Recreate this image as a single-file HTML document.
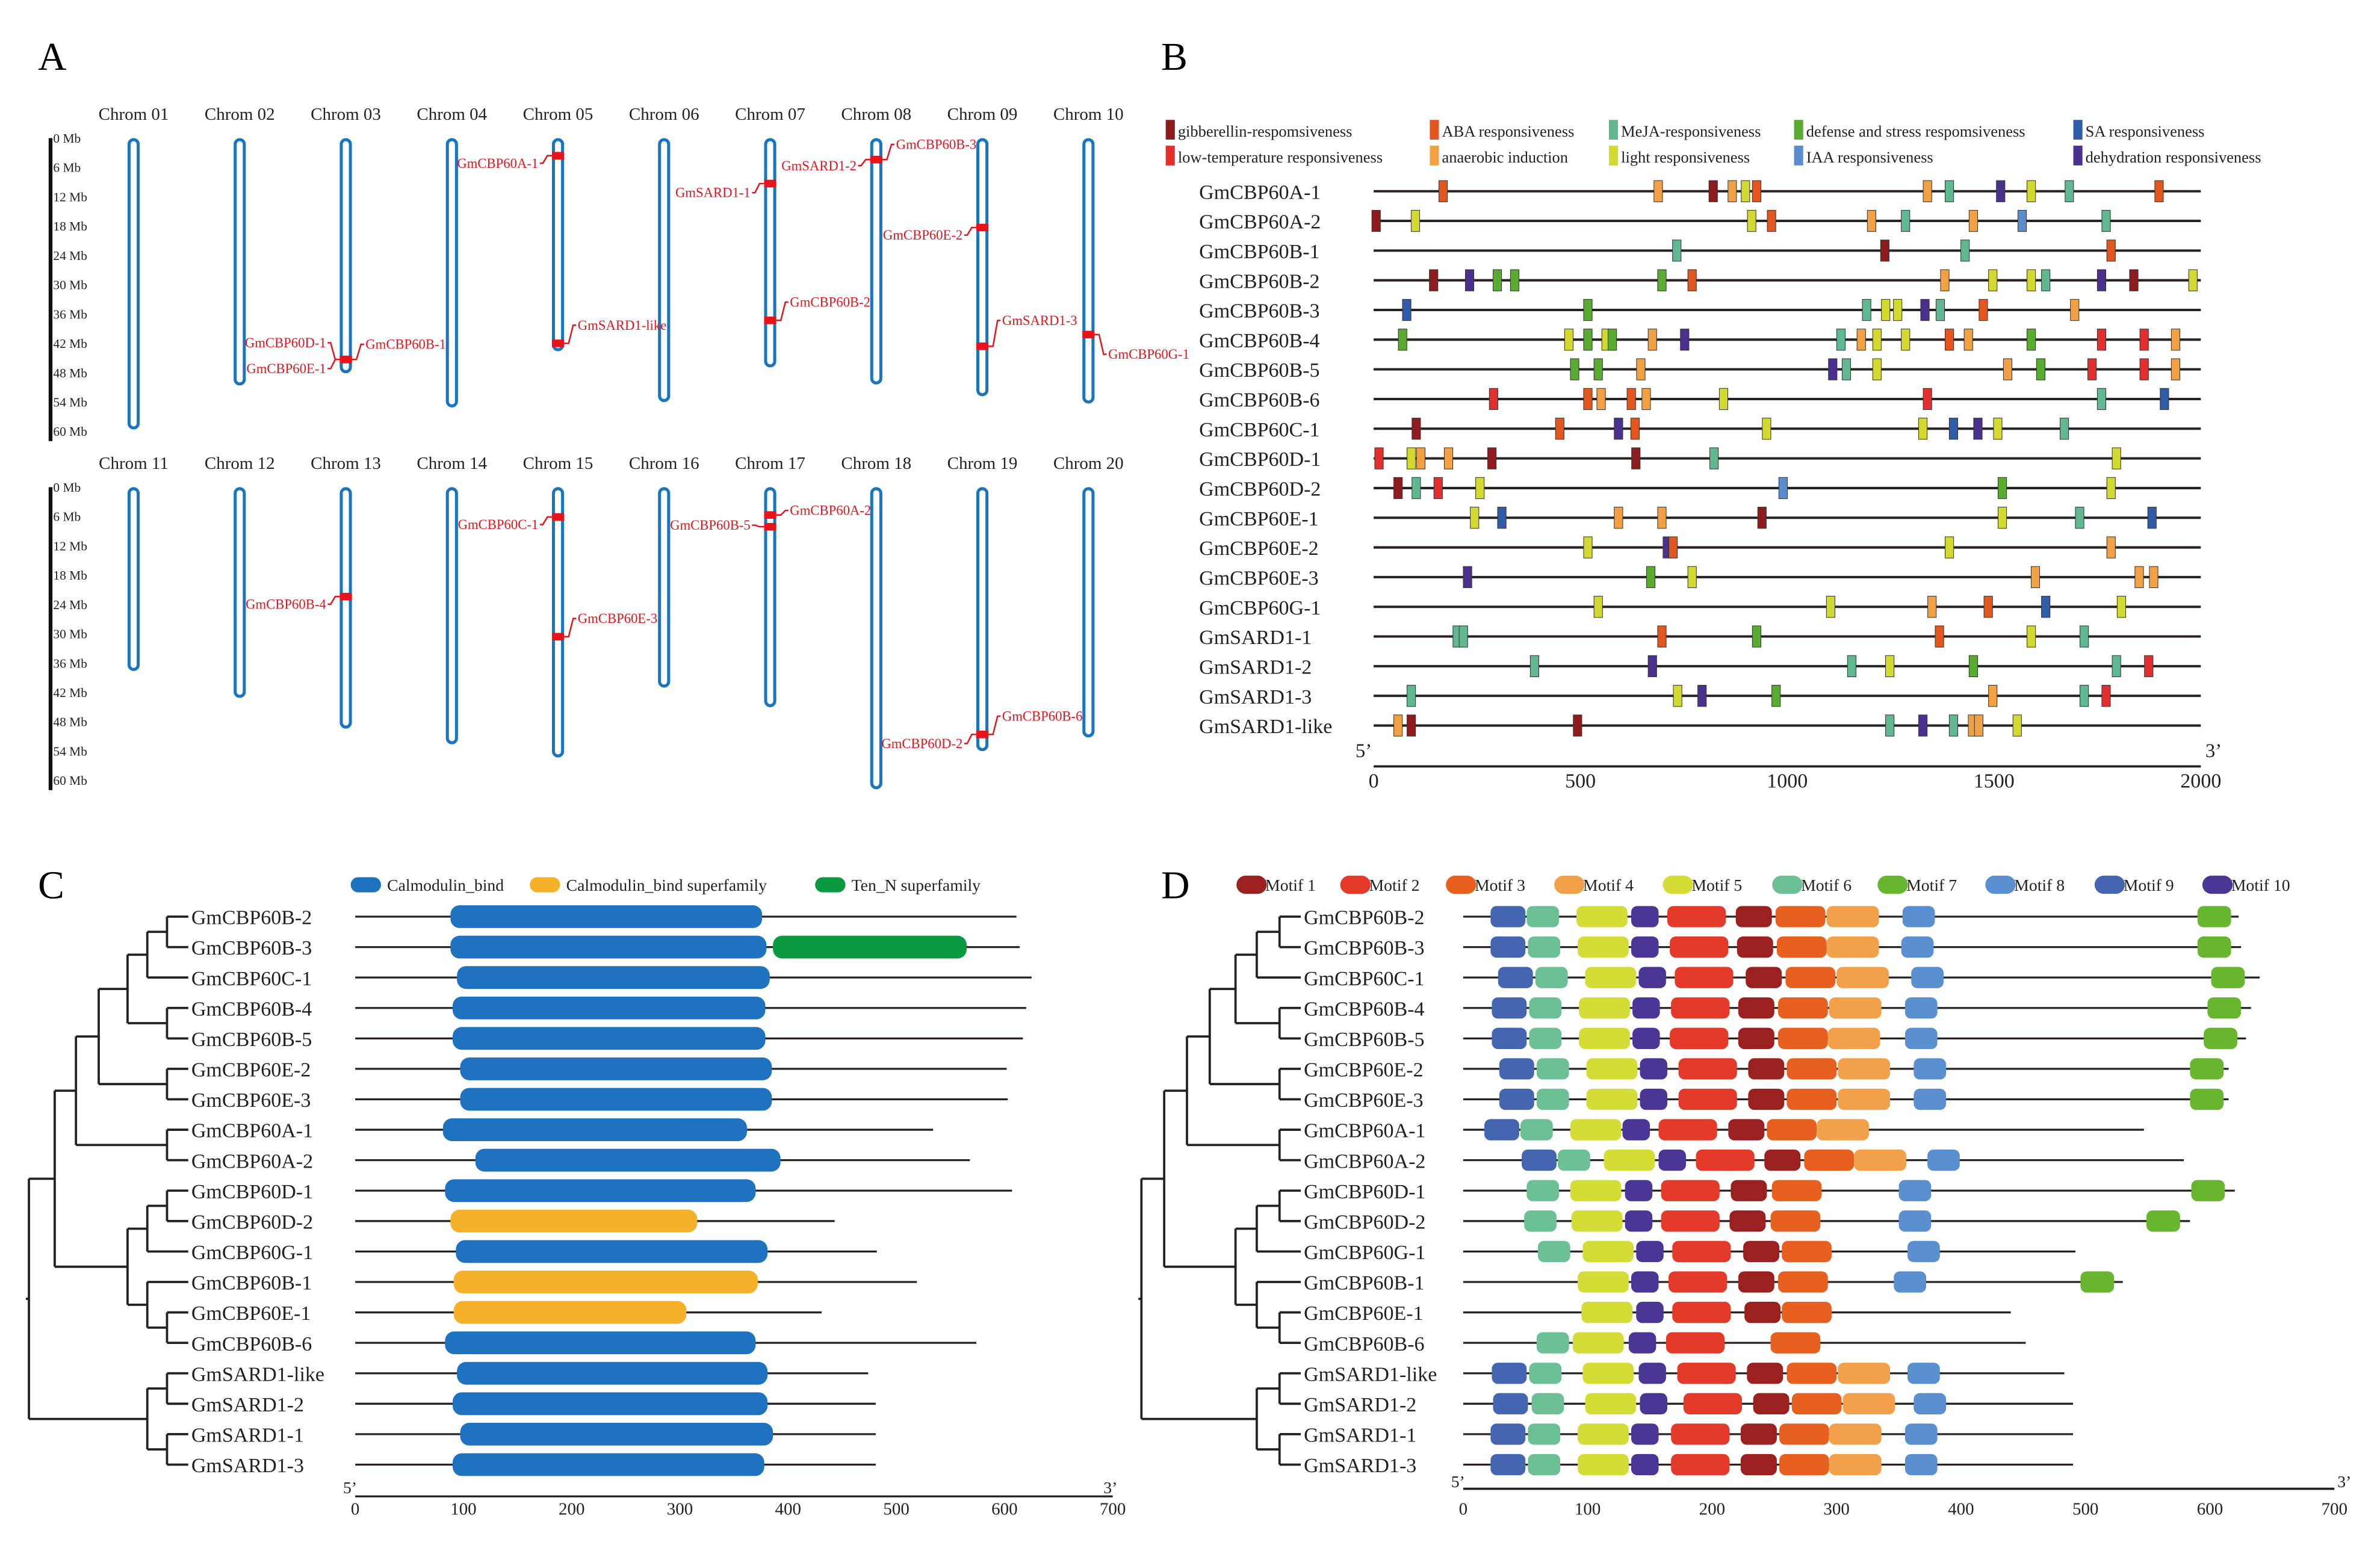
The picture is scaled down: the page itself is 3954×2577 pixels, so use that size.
<!DOCTYPE html>
<html><head><meta charset="utf-8"><style>
html,body{margin:0;padding:0;background:#fff}
svg{display:block}
text{font-family:"Liberation Serif",serif}
</style></head><body>
<svg id="fig" xmlns="http://www.w3.org/2000/svg" width="3954" height="2577" viewBox="0 0 1568 1022">
<rect x="0" y="0" width="1568" height="1022" fill="#fff"/>
<text x="25" y="46" font-size="26">A</text>
<text x="765" y="46" font-size="26">B</text>
<text x="25" y="592" font-size="26">C</text>
<text x="765" y="592" font-size="26">D</text>
<g id="pa"></g>
<g id="pb"></g>
<g id="pc"></g>
<g id="pd"></g>
</svg>
<script>
const NS="http://www.w3.org/2000/svg";
function mk(tag,attrs,parent,txt){const e=document.createElementNS(NS,tag);for(const k in attrs)e.setAttribute(k,attrs[k]);if(txt!==undefined)e.textContent=txt;parent.appendChild(e);return e;}

/* ---------- Panel A data ---------- */
const chromNames=["Chrom 01","Chrom 02","Chrom 03","Chrom 04","Chrom 05","Chrom 06","Chrom 07","Chrom 08","Chrom 09","Chrom 10","Chrom 11","Chrom 12","Chrom 13","Chrom 14","Chrom 15","Chrom 16","Chrom 17","Chrom 18","Chrom 19","Chrom 20"];
const chromLengths=[59,50,47.5,54.5,43,53.4,46.3,49.8,52.2,53.7,37,42.5,48.8,52,54.7,40.4,44.4,61.2,53.4,50.6];
const mbTicks=[0,6,12,18,24,30,36,42,48,54,60];
const geneNamesA=["GmCBP60A-1","GmSARD1-like","GmCBP60D-1","GmCBP60E-1","GmCBP60B-1","GmSARD1-1","GmCBP60B-2","GmCBP60B-3","GmSARD1-2","GmCBP60E-2","GmSARD1-3","GmCBP60G-1","GmCBP60C-1","GmCBP60E-3","GmCBP60A-2","GmCBP60B-5","GmCBP60B-4","GmCBP60B-6","GmCBP60D-2"];
const geneChrom=[5,5,3,3,3,7,7,8,8,9,9,10,15,15,17,17,13,19,19];
const geneMb=[3.6,42,45.3,45.3,45.3,9.3,37.3,4.4,4.4,18.3,42.6,40.2,6.1,30.6,5.7,8.1,22.4,50.6,50.6];
// label layout: side (-1 left, 1 right) and vertical label offset (px)
const labelSide=[-1,1,-1,-1,1,-1,1,1,-1,-1,1,1,-1,1,1,-1,-1,1,-1];
const labelDy=[8,-9,-8,9,-7,9,-9,-7,7,8,-14,16,8,-9,0,2,8,-9,9];

const pa=document.getElementById('pa');
function cx(i){return 88+(i%10)*69.9;}
function base(i){return i<10?91:321;}
const PXMB=3.22;
[0,1].forEach(r=>{
  const b=r?321:91;
  const bar=mk('rect',{x:32,y:b,width:2.5,height:62*PXMB,fill:'#111'},pa);
  
  
  mbTicks.forEach(v=>{
    const t=mk('text',{x:35,y:b+v*PXMB+3,'font-size':8.5,fill:'#222'},pa,v+' Mb');
    
    
  });
});
chromNames.forEach((n,i)=>{
  const x=cx(i),b=base(i);
  const t=mk('text',{x:x,y:(i<10?79:309),'font-size':11.5,'text-anchor':'middle',fill:'#222'},pa,n);
  
  
  const c=mk('rect',{x:x-3,y:b+1,width:6,height:chromLengths[i]*PXMB,rx:3,fill:'#fff',stroke:'#1a75c0','stroke-width':2},pa);
  
  
});
geneNamesA.forEach((g,k)=>{
  const i=geneChrom[k]-1,x=cx(i),y=base(i)+geneMb[k]*PXMB;
  const m=mk('rect',{x:x-4,y:y-2.5,width:8,height:5,fill:'#e8141c'},pa);
  
  
  const s=labelSide[k],ly=y+labelDy[k];
  const p=mk('path',{d:`M${x+s*4} ${y} L${x+s*7} ${y} L${x+s*10} ${ly-3} L${x+s*12} ${ly-3}`,fill:'none',stroke:'#e8141c','stroke-width':1},pa);
  
  
  const t=mk('text',{x:x+s*13,y:ly,'font-size':9,fill:'#e8141c','text-anchor':s<0?'end':'start'},pa,g);
  
  
});

/* ---------- Panel B data ---------- */
const elemTypes=["gibberellin-respomsiveness","ABA responsiveness","MeJA-responsiveness","defense and stress respomsiveness","SA responsiveness","low-temperature responsiveness","anaerobic induction","light responsiveness","IAA responsiveness","dehydration responsiveness"];
const elemColors=["#8e1c1f","#e3561e","#5fb890","#5aab31","#2f5ca9","#e3302e","#f2a044","#d3d92f","#5b8ccd","#4b318f"];
const bGenes=["GmCBP60A-1","GmCBP60A-2","GmCBP60B-1","GmCBP60B-2","GmCBP60B-3","GmCBP60B-4","GmCBP60B-5","GmCBP60B-6","GmCBP60C-1","GmCBP60D-1","GmCBP60D-2","GmCBP60E-1","GmCBP60E-2","GmCBP60E-3","GmCBP60G-1","GmSARD1-1","GmSARD1-2","GmSARD1-3","GmSARD1-like"];
// element type index per gene (gib0 ABA1 MeJA2 def3 SA4 low5 anaer6 light7 IAA8 dehyd9)
const bTypes=[
 [1,6,0,6,7,1,6,2,9,7,2,1],
 [0,7,7,1,6,2,6,8,2],
 [2,0,2,1],
 [0,9,3,3,3,1,6,7,7,2,9,0,7],
 [4,3,2,7,7,9,2,1,6],
 [3,7,3,7,3,6,9,2,6,7,7,1,6,3,5,5,6],
 [3,3,6,9,2,7,6,3,5,5,6],
 [5,1,6,1,6,7,5,2,4],
 [0,1,9,1,7,7,4,9,7,2],
 [5,7,6,6,0,0,2,7],
 [0,2,5,7,8,3,7],
 [7,4,6,6,0,7,2,4],
 [7,9,1,7,6],
 [9,3,7,6,6,6],
 [7,7,6,1,4,7],
 [2,2,1,3,1,7,2],
 [2,9,2,7,3,2,5],
 [2,7,9,3,6,2,5],
 [6,0,0,2,9,2,6,6,7]];
const bPos=[
 [168,688,821,867,899,926,1339,1392,1516,1590,1682,1899],
 [6,101,914,962,1204,1286,1450,1568,1771],
 [733,1236,1430,1783],
 [145,232,299,341,697,770,1381,1497,1590,1625,1760,1838,1981],
 [80,518,1192,1238,1267,1333,1370,1474,1695],
 [70,472,518,562,577,674,752,1130,1179,1217,1286,1392,1438,1590,1760,1863,1939],
 [486,543,646,1110,1143,1217,1533,1613,1737,1863,1939],
 [290,518,550,623,659,846,1339,1760,1912],
 [103,450,592,632,950,1328,1402,1461,1509,1670],
 [13,91,114,181,286,634,823,1796],
 [59,103,156,257,990,1520,1783],
 [244,310,592,697,939,1520,1707,1882],
 [518,710,724,1392,1783],
 [227,670,770,1600,1851,1886],
 [543,1105,1350,1486,1625,1808],
 [202,217,697,926,1368,1590,1718],
 [389,674,1156,1248,1450,1796,1874],
 [91,735,794,973,1497,1718,1771],
 [59,91,493,1248,1328,1402,1448,1463,1556]];
const bTicks=[0,500,1000,1500,2000];

const pb=document.getElementById('pb');
const bx=v=>905+v*0.2725, by=i=>126+i*19.56;
// legend
elemTypes.forEach((n,i)=>{
  const col=i%5,row=i<5?0:1;
  const idx=row?[5,6,7,8,9][col]:col;
  const lx=[768,942,1060,1182,1366][col],ly=row?103:86;
  const nm=elemTypes[idx];
  const sw=mk('rect',{x:lx,y:ly-7,width:6,height:13,fill:elemColors[idx]},pb);
  
  
  const t=mk('text',{x:lx+8,y:ly+4,'font-size':10.5,fill:'#222'},pb,nm);
  
  
});
bGenes.forEach((g,i)=>{
  const y=by(i);
  const t=mk('text',{x:790,y:y+5,'font-size':13.5,fill:'#222'},pb,g);
  
  
  const l=mk('line',{x1:bx(0),x2:bx(2000),y1:y,y2:y,stroke:'#2a2222','stroke-width':1.6},pb);
  
  
  bPos[i].forEach((p,k)=>{
    const r=mk('rect',{x:bx(p)-2.8,y:y-7,width:5.6,height:14,fill:elemColors[bTypes[i][k]],stroke:'#333','stroke-width':0.4},pb);
    
    
  });
});
{
  const a=mk('line',{x1:bx(0),x2:bx(2000),y1:505,y2:505,stroke:'#222','stroke-width':1.5},pb);
  
  
  bTicks.forEach(v=>{
    const t=mk('text',{x:bx(v),y:519,'font-size':13.5,'text-anchor':'middle',fill:'#222'},pb,v);
    
    
  });
  const f=mk('text',{x:893,y:499,'font-size':13,fill:'#222'},pb,"5’");
  
  
  const e=mk('text',{x:1453,y:499,'font-size':13,fill:'#222'},pb,"3’");
  
  
}

/* ---------- Tree (shared C & D) ---------- */
const treeLeaves=["GmCBP60B-2","GmCBP60B-3","GmCBP60C-1","GmCBP60B-4","GmCBP60B-5","GmCBP60E-2","GmCBP60E-3","GmCBP60A-1","GmCBP60A-2","GmCBP60D-1","GmCBP60D-2","GmCBP60G-1","GmCBP60B-1","GmCBP60E-1","GmCBP60B-6","GmSARD1-like","GmSARD1-2","GmSARD1-1","GmSARD1-3"];
const tree=[[[[[[['GmCBP60B-2','GmCBP60B-3',0],'GmCBP60C-1',1],['GmCBP60B-4','GmCBP60B-5',0],2],['GmCBP60E-2','GmCBP60E-3',0],3],['GmCBP60A-1','GmCBP60A-2',0],4],
 [[['GmCBP60D-1','GmCBP60D-2',0],'GmCBP60G-1',1],['GmCBP60B-1',['GmCBP60E-1','GmCBP60B-6',0],1],2],5],
 [['GmSARD1-like','GmSARD1-2',0],['GmSARD1-1','GmSARD1-3',0],1],6];
const rowY=i=>604+i*20.06;
function drawTree(g,levels,leafX){
  function rec(n){
    if(typeof n==='string'){return {y:rowY(treeLeaves.indexOf(n)),x:leafX};}
    const a=rec(n[0]),b=rec(n[1]),lx=levels[n[2]];
    [a,b].forEach(c=>{
      const h=mk('line',{x1:lx,x2:c.x,y1:c.y,y2:c.y,stroke:'#222','stroke-width':1.5},g);
      
      
    });
    const v=mk('line',{x1:lx,x2:lx,y1:a.y,y2:b.y,stroke:'#222','stroke-width':1.5},g);
    
    
    return {x:lx,y:(a.y+b.y)/2};
  }
  const r=rec(tree);
  const s=mk('line',{x1:levels[6]-2,x2:r.x,y1:r.y,y2:r.y,stroke:'#222','stroke-width':1.5},g);
  
  
}

/* ---------- Panel C data ---------- */
const domainNames=["Calmodulin_bind","Calmodulin_bind superfamily","Ten_N superfamily"];
const domainColors=["#1f72c0","#f5b12a","#0b9a40"];
const cDomType=[[0],[0,2],[0],[0],[0],[0],[0],[0],[0],[0],[1],[0],[1],[1],[0],[0],[0],[0],[0]];
const cDomStart=[[88],[88,386],[94],[90],[90],[97],[97],[81],[111],[83],[88],[93],[91],[91],[83],[94],[90],[97],[90]];
const cDomEnd=[[376],[380,565],[383],[379],[379],[385],[385],[362],[393],[370],[316],[381],[372],[306],[370],[381],[381],[386],[378]];
const cProtLen=[611,614,625,620,617,602,603,534,568,607,443,482,519,431,574,474,481,481,481];
const axTicks=[0,100,200,300,400,500,600,700];

const pc=document.getElementById('pc');
const cxs=v=>234+v*0.713;
drawTree(pc,[110,97,84,65,50,36,19],124);
domainNames.forEach((n,i)=>{
  const lx=[231,349,537][i];
  const sw=mk('rect',{x:lx,y:578,width:20,height:10,rx:5,fill:domainColors[i]},pc);
  
  
  const t=mk('text',{x:lx+24,y:587,'font-size':11,fill:'#222'},pc,n);
  
  
});
treeLeaves.forEach((g,i)=>{
  const y=rowY(i);
  const t=mk('text',{x:126,y:y+5,'font-size':13.5,fill:'#222'},pc,g);
  
  
  const l=mk('line',{x1:cxs(0),x2:cxs(cProtLen[i]),y1:y,y2:y,stroke:'#2a2222','stroke-width':1.3},pc);
  
  
  cDomType[i].forEach((d,k)=>{
    const x0=cxs(cDomStart[i][k]),x1=cxs(cDomEnd[i][k]);
    const r=mk('rect',{x:x0,y:y-7.5,width:x1-x0,height:15,rx:6,fill:domainColors[d]},pc);
    
    
  });
});
{
  const a=mk('line',{x1:cxs(0),x2:cxs(700),y1:986,y2:986,stroke:'#222','stroke-width':1.3},pc);
  
  
  axTicks.forEach(v=>{
    const t=mk('text',{x:cxs(v),y:998,'font-size':11.5,'text-anchor':'middle',fill:'#222'},pc,v);
    
    
  });
  const f=mk('text',{x:226,y:984,'font-size':11,fill:'#222'},pc,"5’");
  
  
  const e=mk('text',{x:727,y:984,'font-size':11,fill:'#222'},pc,"3’");
  
  
}

/* ---------- Panel D data ---------- */
const motifNames=["Motif 1","Motif 2","Motif 3","Motif 4","Motif 5","Motif 6","Motif 7","Motif 8","Motif 9","Motif 10"];
const motifColors=["#9b2121","#e33a2a","#e8601f","#f2a04a","#d4dc36","#6bc096","#68b52f","#5a8fd0","#4466b0","#4b3695"];
const motifLen=[29,47,40,42,41,26,27,26,28,22];
// motif index (0-based) lists and start positions per gene (same order as treeLeaves)
const dMotif=[
 [8,5,4,9,1,0,2,3,7,6],[8,5,4,9,1,0,2,3,7,6],[8,5,4,9,1,0,2,3,7,6],[8,5,4,9,1,0,2,3,7,6],[8,5,4,9,1,0,2,3,7,6],
 [8,5,4,9,1,0,2,3,7,6],[8,5,4,9,1,0,2,3,7,6],[8,5,4,9,1,0,2,3],[8,5,4,9,1,0,2,3,7],
 [5,4,9,1,0,2,7,6],[5,4,9,1,0,2,7,6],[5,4,9,1,0,2,7],[4,9,1,0,2,7,6],[4,9,1,0,2],[5,4,9,1,2],
 [8,5,4,9,1,0,2,3,7],[8,5,4,9,1,0,2,3,7],[8,5,4,9,1,0,2,3,7],[8,5,4,9,1,0,2,3,7]];
const dStart=[
 [22,51,91,135,164,219,251,292,353,590],[22,52,92,135,166,220,252,292,352,590],[28,58,98,141,170,227,259,300,360,601],
 [23,53,93,136,167,221,253,294,355,598],[23,53,93,136,166,221,253,293,355,595],[29,59,99,142,173,229,260,301,362,584],
 [29,59,99,142,173,229,260,301,362,584],[17,46,86,128,157,213,244,284],[47,76,113,157,187,242,274,314,373],
 [51,86,130,159,215,248,350,585],[49,87,130,159,214,247,350,549],[60,96,139,168,225,256,357],
 [92,135,165,221,253,346,496],[95,139,168,226,256],[59,88,133,163,247],
 [23,53,96,141,172,228,260,301,357],[24,55,98,142,177,233,264,305,362],[22,52,92,135,167,223,254,294,355],[22,52,92,135,167,223,254,294,355]];
const dProtLen=[623,625,640,633,629,615,615,547,579,620,584,492,530,440,452,483,490,490,490];

const pd=document.getElementById('pd');
const dx=v=>964+v*0.82;
drawTree(pd,[843,828,814,797,782,767,752],857);
motifNames.forEach((n,i)=>{
  const c=[824.6,893,962.6,1034,1105.5,1177.6,1247,1318,1390,1461][i];
  const sw=mk('rect',{x:c-10,y:577,width:20,height:12,rx:6,fill:motifColors[i]},pd);
  
  
  const t=mk('text',{x:c+9,y:587,'font-size':11,fill:'#222'},pd,n);
  
  
});
treeLeaves.forEach((g,i)=>{
  const y=rowY(i);
  const t=mk('text',{x:859,y:y+5,'font-size':13.5,fill:'#222'},pd,g);
  
  
  const l=mk('line',{x1:dx(0),x2:dx(dProtLen[i]),y1:y,y2:y,stroke:'#2a2222','stroke-width':1.3},pd);
  
  
  dMotif[i].forEach((m,k)=>{
    const x0=dx(dStart[i][k]);
    const r=mk('rect',{x:x0,y:y-7,width:motifLen[m]*0.82,height:14,rx:4,fill:motifColors[m]},pd);
    
    
  });
});
{
  const a=mk('line',{x1:dx(0),x2:dx(700),y1:981,y2:981,stroke:'#222','stroke-width':1.5},pd);
  
  
  axTicks.forEach(v=>{
    const t=mk('text',{x:dx(v),y:998,'font-size':11.5,'text-anchor':'middle',fill:'#222'},pd,v);
    
    
  });
  const f=mk('text',{x:956,y:980,'font-size':11,fill:'#222'},pd,"5’");
  
  
  const e=mk('text',{x:1540,y:980,'font-size':11,fill:'#222'},pd,"3’");
  
  
}
</script>
</body></html>
